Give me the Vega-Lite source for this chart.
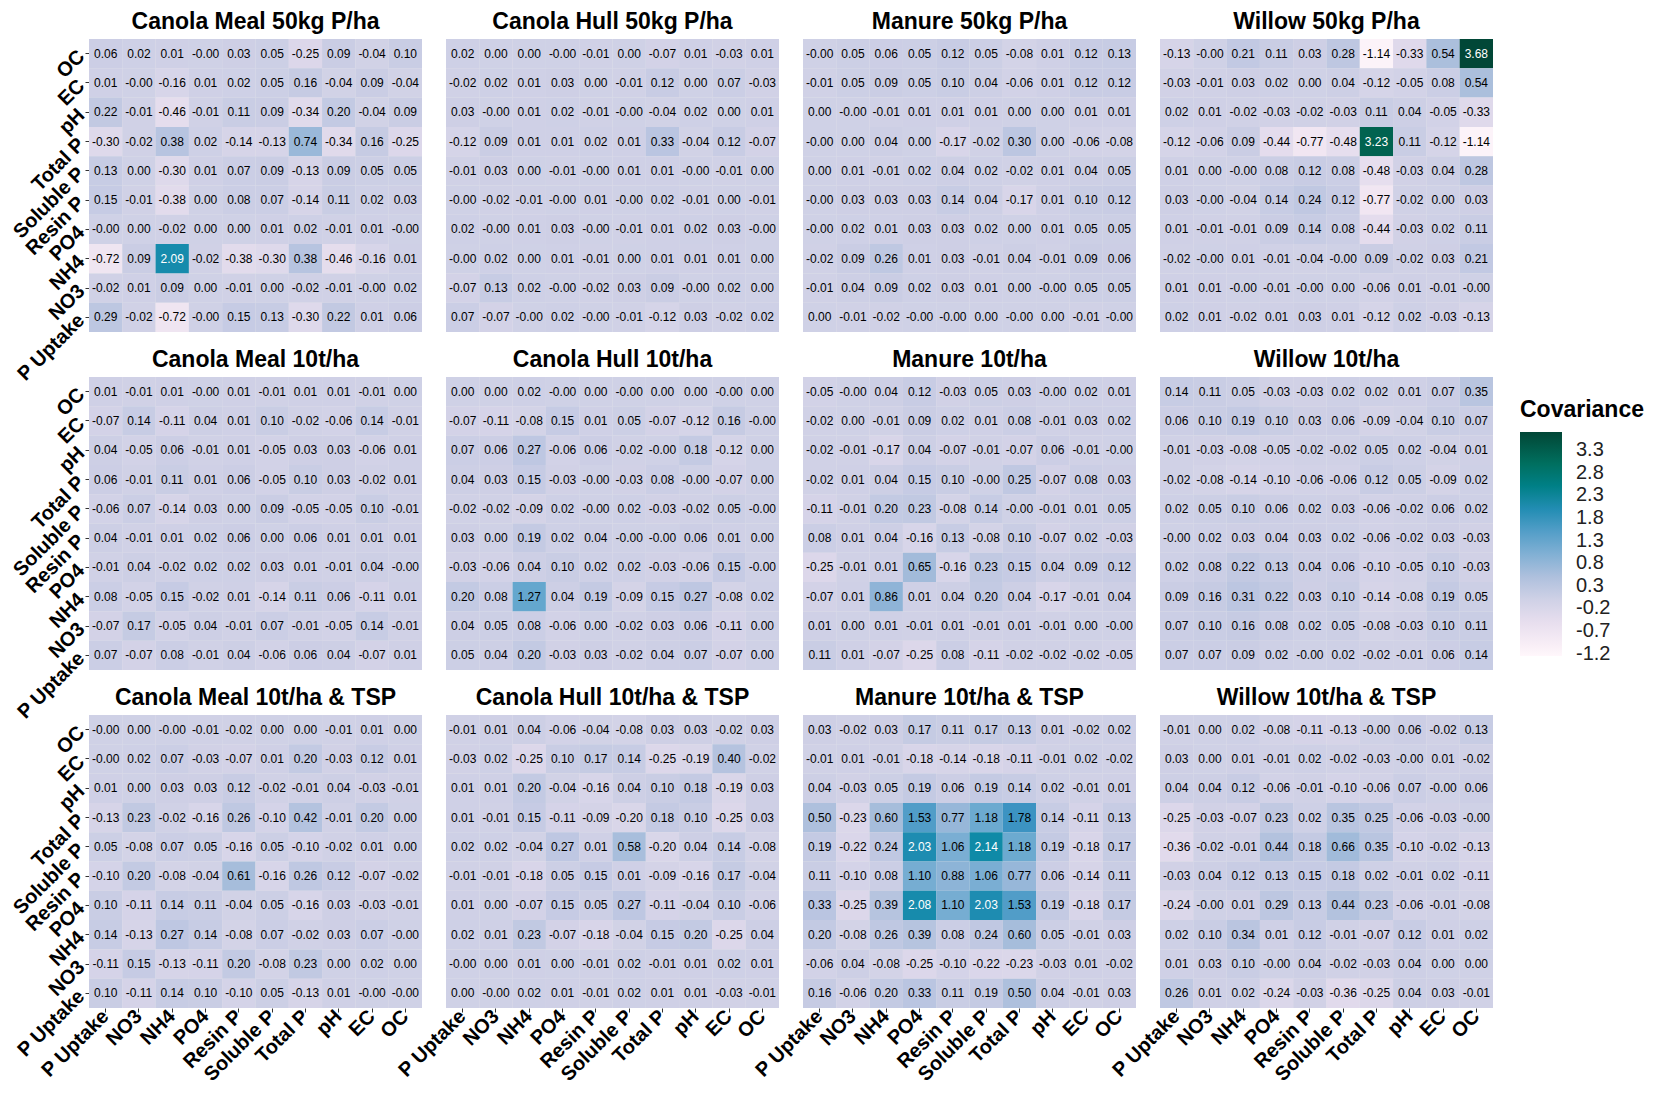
{
"$schema": "https://vega.github.io/schema/vega-lite/v6.json",
"padding": {"left": 5, "top": 11, "right": 5, "bottom": 2},
"datasets": {
"panels": [
{"p":1,"name":"Canola Meal 50kg P/ha"},{"p":2,"name":"Canola Hull 50kg P/ha"},{"p":3,"name":"Manure 50kg P/ha"},{"p":4,"name":"Willow 50kg P/ha"},
{"p":5,"name":"Canola Meal 10t/ha"},{"p":6,"name":"Canola Hull 10t/ha"},{"p":7,"name":"Manure 10t/ha"},{"p":8,"name":"Willow 10t/ha"},
{"p":9,"name":"Canola Meal 10t/ha & TSP"},{"p":10,"name":"Canola Hull 10t/ha & TSP"},{"p":11,"name":"Manure 10t/ha & TSP"},{"p":12,"name":"Willow 10t/ha & TSP"}
],
"cells": [
{"p":1,"y":"OC","x":"P Uptake","v":0.06},{"p":1,"y":"OC","x":"NO3","v":0.02},{"p":1,"y":"OC","x":"NH4","v":0.01},{"p":1,"y":"OC","x":"PO4","v":-0.001},{"p":1,"y":"OC","x":"Resin P","v":0.03},{"p":1,"y":"OC","x":"Soluble P","v":0.05},{"p":1,"y":"OC","x":"Total P","v":-0.25},{"p":1,"y":"OC","x":"pH","v":0.09},{"p":1,"y":"OC","x":"EC","v":-0.04},{"p":1,"y":"OC","x":"OC","v":0.10},
{"p":1,"y":"EC","x":"P Uptake","v":0.01},{"p":1,"y":"EC","x":"NO3","v":-0.001},{"p":1,"y":"EC","x":"NH4","v":-0.16},{"p":1,"y":"EC","x":"PO4","v":0.01},{"p":1,"y":"EC","x":"Resin P","v":0.02},{"p":1,"y":"EC","x":"Soluble P","v":0.05},{"p":1,"y":"EC","x":"Total P","v":0.16},{"p":1,"y":"EC","x":"pH","v":-0.04},{"p":1,"y":"EC","x":"EC","v":0.09},{"p":1,"y":"EC","x":"OC","v":-0.04},
{"p":1,"y":"pH","x":"P Uptake","v":0.22},{"p":1,"y":"pH","x":"NO3","v":-0.01},{"p":1,"y":"pH","x":"NH4","v":-0.46},{"p":1,"y":"pH","x":"PO4","v":-0.01},{"p":1,"y":"pH","x":"Resin P","v":0.11},{"p":1,"y":"pH","x":"Soluble P","v":0.09},{"p":1,"y":"pH","x":"Total P","v":-0.34},{"p":1,"y":"pH","x":"pH","v":0.20},{"p":1,"y":"pH","x":"EC","v":-0.04},{"p":1,"y":"pH","x":"OC","v":0.09},
{"p":1,"y":"Total P","x":"P Uptake","v":-0.30},{"p":1,"y":"Total P","x":"NO3","v":-0.02},{"p":1,"y":"Total P","x":"NH4","v":0.38},{"p":1,"y":"Total P","x":"PO4","v":0.02},{"p":1,"y":"Total P","x":"Resin P","v":-0.14},{"p":1,"y":"Total P","x":"Soluble P","v":-0.13},{"p":1,"y":"Total P","x":"Total P","v":0.74},{"p":1,"y":"Total P","x":"pH","v":-0.34},{"p":1,"y":"Total P","x":"EC","v":0.16},{"p":1,"y":"Total P","x":"OC","v":-0.25},
{"p":1,"y":"Soluble P","x":"P Uptake","v":0.13},{"p":1,"y":"Soluble P","x":"NO3","v":0.00},{"p":1,"y":"Soluble P","x":"NH4","v":-0.30},{"p":1,"y":"Soluble P","x":"PO4","v":0.01},{"p":1,"y":"Soluble P","x":"Resin P","v":0.07},{"p":1,"y":"Soluble P","x":"Soluble P","v":0.09},{"p":1,"y":"Soluble P","x":"Total P","v":-0.13},{"p":1,"y":"Soluble P","x":"pH","v":0.09},{"p":1,"y":"Soluble P","x":"EC","v":0.05},{"p":1,"y":"Soluble P","x":"OC","v":0.05},
{"p":1,"y":"Resin P","x":"P Uptake","v":0.15},{"p":1,"y":"Resin P","x":"NO3","v":-0.01},{"p":1,"y":"Resin P","x":"NH4","v":-0.38},{"p":1,"y":"Resin P","x":"PO4","v":0.00},{"p":1,"y":"Resin P","x":"Resin P","v":0.08},{"p":1,"y":"Resin P","x":"Soluble P","v":0.07},{"p":1,"y":"Resin P","x":"Total P","v":-0.14},{"p":1,"y":"Resin P","x":"pH","v":0.11},{"p":1,"y":"Resin P","x":"EC","v":0.02},{"p":1,"y":"Resin P","x":"OC","v":0.03},
{"p":1,"y":"PO4","x":"P Uptake","v":-0.001},{"p":1,"y":"PO4","x":"NO3","v":0.00},{"p":1,"y":"PO4","x":"NH4","v":-0.02},{"p":1,"y":"PO4","x":"PO4","v":0.00},{"p":1,"y":"PO4","x":"Resin P","v":0.00},{"p":1,"y":"PO4","x":"Soluble P","v":0.01},{"p":1,"y":"PO4","x":"Total P","v":0.02},{"p":1,"y":"PO4","x":"pH","v":-0.01},{"p":1,"y":"PO4","x":"EC","v":0.01},{"p":1,"y":"PO4","x":"OC","v":-0.001},
{"p":1,"y":"NH4","x":"P Uptake","v":-0.72},{"p":1,"y":"NH4","x":"NO3","v":0.09},{"p":1,"y":"NH4","x":"NH4","v":2.09},{"p":1,"y":"NH4","x":"PO4","v":-0.02},{"p":1,"y":"NH4","x":"Resin P","v":-0.38},{"p":1,"y":"NH4","x":"Soluble P","v":-0.30},{"p":1,"y":"NH4","x":"Total P","v":0.38},{"p":1,"y":"NH4","x":"pH","v":-0.46},{"p":1,"y":"NH4","x":"EC","v":-0.16},{"p":1,"y":"NH4","x":"OC","v":0.01},
{"p":1,"y":"NO3","x":"P Uptake","v":-0.02},{"p":1,"y":"NO3","x":"NO3","v":0.01},{"p":1,"y":"NO3","x":"NH4","v":0.09},{"p":1,"y":"NO3","x":"PO4","v":0.00},{"p":1,"y":"NO3","x":"Resin P","v":-0.01},{"p":1,"y":"NO3","x":"Soluble P","v":0.00},{"p":1,"y":"NO3","x":"Total P","v":-0.02},{"p":1,"y":"NO3","x":"pH","v":-0.01},{"p":1,"y":"NO3","x":"EC","v":-0.001},{"p":1,"y":"NO3","x":"OC","v":0.02},
{"p":1,"y":"P Uptake","x":"P Uptake","v":0.29},{"p":1,"y":"P Uptake","x":"NO3","v":-0.02},{"p":1,"y":"P Uptake","x":"NH4","v":-0.72},{"p":1,"y":"P Uptake","x":"PO4","v":-0.001},{"p":1,"y":"P Uptake","x":"Resin P","v":0.15},{"p":1,"y":"P Uptake","x":"Soluble P","v":0.13},{"p":1,"y":"P Uptake","x":"Total P","v":-0.30},{"p":1,"y":"P Uptake","x":"pH","v":0.22},{"p":1,"y":"P Uptake","x":"EC","v":0.01},{"p":1,"y":"P Uptake","x":"OC","v":0.06},

{"p":2,"y":"OC","x":"P Uptake","v":0.02},{"p":2,"y":"OC","x":"NO3","v":0.00},{"p":2,"y":"OC","x":"NH4","v":0.00},{"p":2,"y":"OC","x":"PO4","v":-0.001},{"p":2,"y":"OC","x":"Resin P","v":-0.01},{"p":2,"y":"OC","x":"Soluble P","v":0.00},{"p":2,"y":"OC","x":"Total P","v":-0.07},{"p":2,"y":"OC","x":"pH","v":0.01},{"p":2,"y":"OC","x":"EC","v":-0.03},{"p":2,"y":"OC","x":"OC","v":0.01},
{"p":2,"y":"EC","x":"P Uptake","v":-0.02},{"p":2,"y":"EC","x":"NO3","v":0.02},{"p":2,"y":"EC","x":"NH4","v":0.01},{"p":2,"y":"EC","x":"PO4","v":0.03},{"p":2,"y":"EC","x":"Resin P","v":0.00},{"p":2,"y":"EC","x":"Soluble P","v":-0.01},{"p":2,"y":"EC","x":"Total P","v":0.12},{"p":2,"y":"EC","x":"pH","v":0.00},{"p":2,"y":"EC","x":"EC","v":0.07},{"p":2,"y":"EC","x":"OC","v":-0.03},
{"p":2,"y":"pH","x":"P Uptake","v":0.03},{"p":2,"y":"pH","x":"NO3","v":-0.001},{"p":2,"y":"pH","x":"NH4","v":0.01},{"p":2,"y":"pH","x":"PO4","v":0.02},{"p":2,"y":"pH","x":"Resin P","v":-0.01},{"p":2,"y":"pH","x":"Soluble P","v":-0.001},{"p":2,"y":"pH","x":"Total P","v":-0.04},{"p":2,"y":"pH","x":"pH","v":0.02},{"p":2,"y":"pH","x":"EC","v":0.00},{"p":2,"y":"pH","x":"OC","v":0.01},
{"p":2,"y":"Total P","x":"P Uptake","v":-0.12},{"p":2,"y":"Total P","x":"NO3","v":0.09},{"p":2,"y":"Total P","x":"NH4","v":0.01},{"p":2,"y":"Total P","x":"PO4","v":0.01},{"p":2,"y":"Total P","x":"Resin P","v":0.02},{"p":2,"y":"Total P","x":"Soluble P","v":0.01},{"p":2,"y":"Total P","x":"Total P","v":0.33},{"p":2,"y":"Total P","x":"pH","v":-0.04},{"p":2,"y":"Total P","x":"EC","v":0.12},{"p":2,"y":"Total P","x":"OC","v":-0.07},
{"p":2,"y":"Soluble P","x":"P Uptake","v":-0.01},{"p":2,"y":"Soluble P","x":"NO3","v":0.03},{"p":2,"y":"Soluble P","x":"NH4","v":0.00},{"p":2,"y":"Soluble P","x":"PO4","v":-0.01},{"p":2,"y":"Soluble P","x":"Resin P","v":-0.001},{"p":2,"y":"Soluble P","x":"Soluble P","v":0.01},{"p":2,"y":"Soluble P","x":"Total P","v":0.01},{"p":2,"y":"Soluble P","x":"pH","v":-0.001},{"p":2,"y":"Soluble P","x":"EC","v":-0.01},{"p":2,"y":"Soluble P","x":"OC","v":0.00},
{"p":2,"y":"Resin P","x":"P Uptake","v":-0.001},{"p":2,"y":"Resin P","x":"NO3","v":-0.02},{"p":2,"y":"Resin P","x":"NH4","v":-0.01},{"p":2,"y":"Resin P","x":"PO4","v":-0.001},{"p":2,"y":"Resin P","x":"Resin P","v":0.01},{"p":2,"y":"Resin P","x":"Soluble P","v":-0.001},{"p":2,"y":"Resin P","x":"Total P","v":0.02},{"p":2,"y":"Resin P","x":"pH","v":-0.01},{"p":2,"y":"Resin P","x":"EC","v":0.00},{"p":2,"y":"Resin P","x":"OC","v":-0.01},
{"p":2,"y":"PO4","x":"P Uptake","v":0.02},{"p":2,"y":"PO4","x":"NO3","v":-0.001},{"p":2,"y":"PO4","x":"NH4","v":0.01},{"p":2,"y":"PO4","x":"PO4","v":0.03},{"p":2,"y":"PO4","x":"Resin P","v":-0.001},{"p":2,"y":"PO4","x":"Soluble P","v":-0.01},{"p":2,"y":"PO4","x":"Total P","v":0.01},{"p":2,"y":"PO4","x":"pH","v":0.02},{"p":2,"y":"PO4","x":"EC","v":0.03},{"p":2,"y":"PO4","x":"OC","v":-0.001},
{"p":2,"y":"NH4","x":"P Uptake","v":-0.001},{"p":2,"y":"NH4","x":"NO3","v":0.02},{"p":2,"y":"NH4","x":"NH4","v":0.00},{"p":2,"y":"NH4","x":"PO4","v":0.01},{"p":2,"y":"NH4","x":"Resin P","v":-0.01},{"p":2,"y":"NH4","x":"Soluble P","v":0.00},{"p":2,"y":"NH4","x":"Total P","v":0.01},{"p":2,"y":"NH4","x":"pH","v":0.01},{"p":2,"y":"NH4","x":"EC","v":0.01},{"p":2,"y":"NH4","x":"OC","v":0.00},
{"p":2,"y":"NO3","x":"P Uptake","v":-0.07},{"p":2,"y":"NO3","x":"NO3","v":0.13},{"p":2,"y":"NO3","x":"NH4","v":0.02},{"p":2,"y":"NO3","x":"PO4","v":-0.001},{"p":2,"y":"NO3","x":"Resin P","v":-0.02},{"p":2,"y":"NO3","x":"Soluble P","v":0.03},{"p":2,"y":"NO3","x":"Total P","v":0.09},{"p":2,"y":"NO3","x":"pH","v":-0.001},{"p":2,"y":"NO3","x":"EC","v":0.02},{"p":2,"y":"NO3","x":"OC","v":0.00},
{"p":2,"y":"P Uptake","x":"P Uptake","v":0.07},{"p":2,"y":"P Uptake","x":"NO3","v":-0.07},{"p":2,"y":"P Uptake","x":"NH4","v":-0.001},{"p":2,"y":"P Uptake","x":"PO4","v":0.02},{"p":2,"y":"P Uptake","x":"Resin P","v":-0.001},{"p":2,"y":"P Uptake","x":"Soluble P","v":-0.01},{"p":2,"y":"P Uptake","x":"Total P","v":-0.12},{"p":2,"y":"P Uptake","x":"pH","v":0.03},{"p":2,"y":"P Uptake","x":"EC","v":-0.02},{"p":2,"y":"P Uptake","x":"OC","v":0.02},

{"p":3,"y":"OC","x":"P Uptake","v":-0.001},{"p":3,"y":"OC","x":"NO3","v":0.05},{"p":3,"y":"OC","x":"NH4","v":0.06},{"p":3,"y":"OC","x":"PO4","v":0.05},{"p":3,"y":"OC","x":"Resin P","v":0.12},{"p":3,"y":"OC","x":"Soluble P","v":0.05},{"p":3,"y":"OC","x":"Total P","v":-0.08},{"p":3,"y":"OC","x":"pH","v":0.01},{"p":3,"y":"OC","x":"EC","v":0.12},{"p":3,"y":"OC","x":"OC","v":0.13},
{"p":3,"y":"EC","x":"P Uptake","v":-0.01},{"p":3,"y":"EC","x":"NO3","v":0.05},{"p":3,"y":"EC","x":"NH4","v":0.09},{"p":3,"y":"EC","x":"PO4","v":0.05},{"p":3,"y":"EC","x":"Resin P","v":0.10},{"p":3,"y":"EC","x":"Soluble P","v":0.04},{"p":3,"y":"EC","x":"Total P","v":-0.06},{"p":3,"y":"EC","x":"pH","v":0.01},{"p":3,"y":"EC","x":"EC","v":0.12},{"p":3,"y":"EC","x":"OC","v":0.12},
{"p":3,"y":"pH","x":"P Uptake","v":0.00},{"p":3,"y":"pH","x":"NO3","v":-0.001},{"p":3,"y":"pH","x":"NH4","v":-0.01},{"p":3,"y":"pH","x":"PO4","v":0.01},{"p":3,"y":"pH","x":"Resin P","v":0.01},{"p":3,"y":"pH","x":"Soluble P","v":0.01},{"p":3,"y":"pH","x":"Total P","v":0.00},{"p":3,"y":"pH","x":"pH","v":0.00},{"p":3,"y":"pH","x":"EC","v":0.01},{"p":3,"y":"pH","x":"OC","v":0.01},
{"p":3,"y":"Total P","x":"P Uptake","v":-0.001},{"p":3,"y":"Total P","x":"NO3","v":0.00},{"p":3,"y":"Total P","x":"NH4","v":0.04},{"p":3,"y":"Total P","x":"PO4","v":0.00},{"p":3,"y":"Total P","x":"Resin P","v":-0.17},{"p":3,"y":"Total P","x":"Soluble P","v":-0.02},{"p":3,"y":"Total P","x":"Total P","v":0.30},{"p":3,"y":"Total P","x":"pH","v":0.00},{"p":3,"y":"Total P","x":"EC","v":-0.06},{"p":3,"y":"Total P","x":"OC","v":-0.08},
{"p":3,"y":"Soluble P","x":"P Uptake","v":0.00},{"p":3,"y":"Soluble P","x":"NO3","v":0.01},{"p":3,"y":"Soluble P","x":"NH4","v":-0.01},{"p":3,"y":"Soluble P","x":"PO4","v":0.02},{"p":3,"y":"Soluble P","x":"Resin P","v":0.04},{"p":3,"y":"Soluble P","x":"Soluble P","v":0.02},{"p":3,"y":"Soluble P","x":"Total P","v":-0.02},{"p":3,"y":"Soluble P","x":"pH","v":0.01},{"p":3,"y":"Soluble P","x":"EC","v":0.04},{"p":3,"y":"Soluble P","x":"OC","v":0.05},
{"p":3,"y":"Resin P","x":"P Uptake","v":-0.001},{"p":3,"y":"Resin P","x":"NO3","v":0.03},{"p":3,"y":"Resin P","x":"NH4","v":0.03},{"p":3,"y":"Resin P","x":"PO4","v":0.03},{"p":3,"y":"Resin P","x":"Resin P","v":0.14},{"p":3,"y":"Resin P","x":"Soluble P","v":0.04},{"p":3,"y":"Resin P","x":"Total P","v":-0.17},{"p":3,"y":"Resin P","x":"pH","v":0.01},{"p":3,"y":"Resin P","x":"EC","v":0.10},{"p":3,"y":"Resin P","x":"OC","v":0.12},
{"p":3,"y":"PO4","x":"P Uptake","v":-0.001},{"p":3,"y":"PO4","x":"NO3","v":0.02},{"p":3,"y":"PO4","x":"NH4","v":0.01},{"p":3,"y":"PO4","x":"PO4","v":0.03},{"p":3,"y":"PO4","x":"Resin P","v":0.03},{"p":3,"y":"PO4","x":"Soluble P","v":0.02},{"p":3,"y":"PO4","x":"Total P","v":0.00},{"p":3,"y":"PO4","x":"pH","v":0.01},{"p":3,"y":"PO4","x":"EC","v":0.05},{"p":3,"y":"PO4","x":"OC","v":0.05},
{"p":3,"y":"NH4","x":"P Uptake","v":-0.02},{"p":3,"y":"NH4","x":"NO3","v":0.09},{"p":3,"y":"NH4","x":"NH4","v":0.26},{"p":3,"y":"NH4","x":"PO4","v":0.01},{"p":3,"y":"NH4","x":"Resin P","v":0.03},{"p":3,"y":"NH4","x":"Soluble P","v":-0.01},{"p":3,"y":"NH4","x":"Total P","v":0.04},{"p":3,"y":"NH4","x":"pH","v":-0.01},{"p":3,"y":"NH4","x":"EC","v":0.09},{"p":3,"y":"NH4","x":"OC","v":0.06},
{"p":3,"y":"NO3","x":"P Uptake","v":-0.01},{"p":3,"y":"NO3","x":"NO3","v":0.04},{"p":3,"y":"NO3","x":"NH4","v":0.09},{"p":3,"y":"NO3","x":"PO4","v":0.02},{"p":3,"y":"NO3","x":"Resin P","v":0.03},{"p":3,"y":"NO3","x":"Soluble P","v":0.01},{"p":3,"y":"NO3","x":"Total P","v":0.00},{"p":3,"y":"NO3","x":"pH","v":-0.001},{"p":3,"y":"NO3","x":"EC","v":0.05},{"p":3,"y":"NO3","x":"OC","v":0.05},
{"p":3,"y":"P Uptake","x":"P Uptake","v":0.00},{"p":3,"y":"P Uptake","x":"NO3","v":-0.01},{"p":3,"y":"P Uptake","x":"NH4","v":-0.02},{"p":3,"y":"P Uptake","x":"PO4","v":-0.001},{"p":3,"y":"P Uptake","x":"Resin P","v":-0.001},{"p":3,"y":"P Uptake","x":"Soluble P","v":0.00},{"p":3,"y":"P Uptake","x":"Total P","v":-0.001},{"p":3,"y":"P Uptake","x":"pH","v":0.00},{"p":3,"y":"P Uptake","x":"EC","v":-0.01},{"p":3,"y":"P Uptake","x":"OC","v":-0.001},

{"p":4,"y":"OC","x":"P Uptake","v":-0.13},{"p":4,"y":"OC","x":"NO3","v":-0.001},{"p":4,"y":"OC","x":"NH4","v":0.21},{"p":4,"y":"OC","x":"PO4","v":0.11},{"p":4,"y":"OC","x":"Resin P","v":0.03},{"p":4,"y":"OC","x":"Soluble P","v":0.28},{"p":4,"y":"OC","x":"Total P","v":-1.14},{"p":4,"y":"OC","x":"pH","v":-0.33},{"p":4,"y":"OC","x":"EC","v":0.54},{"p":4,"y":"OC","x":"OC","v":3.68},
{"p":4,"y":"EC","x":"P Uptake","v":-0.03},{"p":4,"y":"EC","x":"NO3","v":-0.01},{"p":4,"y":"EC","x":"NH4","v":0.03},{"p":4,"y":"EC","x":"PO4","v":0.02},{"p":4,"y":"EC","x":"Resin P","v":0.00},{"p":4,"y":"EC","x":"Soluble P","v":0.04},{"p":4,"y":"EC","x":"Total P","v":-0.12},{"p":4,"y":"EC","x":"pH","v":-0.05},{"p":4,"y":"EC","x":"EC","v":0.08},{"p":4,"y":"EC","x":"OC","v":0.54},
{"p":4,"y":"pH","x":"P Uptake","v":0.02},{"p":4,"y":"pH","x":"NO3","v":0.01},{"p":4,"y":"pH","x":"NH4","v":-0.02},{"p":4,"y":"pH","x":"PO4","v":-0.03},{"p":4,"y":"pH","x":"Resin P","v":-0.02},{"p":4,"y":"pH","x":"Soluble P","v":-0.03},{"p":4,"y":"pH","x":"Total P","v":0.11},{"p":4,"y":"pH","x":"pH","v":0.04},{"p":4,"y":"pH","x":"EC","v":-0.05},{"p":4,"y":"pH","x":"OC","v":-0.33},
{"p":4,"y":"Total P","x":"P Uptake","v":-0.12},{"p":4,"y":"Total P","x":"NO3","v":-0.06},{"p":4,"y":"Total P","x":"NH4","v":0.09},{"p":4,"y":"Total P","x":"PO4","v":-0.44},{"p":4,"y":"Total P","x":"Resin P","v":-0.77},{"p":4,"y":"Total P","x":"Soluble P","v":-0.48},{"p":4,"y":"Total P","x":"Total P","v":3.23},{"p":4,"y":"Total P","x":"pH","v":0.11},{"p":4,"y":"Total P","x":"EC","v":-0.12},{"p":4,"y":"Total P","x":"OC","v":-1.14},
{"p":4,"y":"Soluble P","x":"P Uptake","v":0.01},{"p":4,"y":"Soluble P","x":"NO3","v":0.00},{"p":4,"y":"Soluble P","x":"NH4","v":-0.001},{"p":4,"y":"Soluble P","x":"PO4","v":0.08},{"p":4,"y":"Soluble P","x":"Resin P","v":0.12},{"p":4,"y":"Soluble P","x":"Soluble P","v":0.08},{"p":4,"y":"Soluble P","x":"Total P","v":-0.48},{"p":4,"y":"Soluble P","x":"pH","v":-0.03},{"p":4,"y":"Soluble P","x":"EC","v":0.04},{"p":4,"y":"Soluble P","x":"OC","v":0.28},
{"p":4,"y":"Resin P","x":"P Uptake","v":0.03},{"p":4,"y":"Resin P","x":"NO3","v":-0.001},{"p":4,"y":"Resin P","x":"NH4","v":-0.04},{"p":4,"y":"Resin P","x":"PO4","v":0.14},{"p":4,"y":"Resin P","x":"Resin P","v":0.24},{"p":4,"y":"Resin P","x":"Soluble P","v":0.12},{"p":4,"y":"Resin P","x":"Total P","v":-0.77},{"p":4,"y":"Resin P","x":"pH","v":-0.02},{"p":4,"y":"Resin P","x":"EC","v":0.00},{"p":4,"y":"Resin P","x":"OC","v":0.03},
{"p":4,"y":"PO4","x":"P Uptake","v":0.01},{"p":4,"y":"PO4","x":"NO3","v":-0.01},{"p":4,"y":"PO4","x":"NH4","v":-0.01},{"p":4,"y":"PO4","x":"PO4","v":0.09},{"p":4,"y":"PO4","x":"Resin P","v":0.14},{"p":4,"y":"PO4","x":"Soluble P","v":0.08},{"p":4,"y":"PO4","x":"Total P","v":-0.44},{"p":4,"y":"PO4","x":"pH","v":-0.03},{"p":4,"y":"PO4","x":"EC","v":0.02},{"p":4,"y":"PO4","x":"OC","v":0.11},
{"p":4,"y":"NH4","x":"P Uptake","v":-0.02},{"p":4,"y":"NH4","x":"NO3","v":-0.001},{"p":4,"y":"NH4","x":"NH4","v":0.01},{"p":4,"y":"NH4","x":"PO4","v":-0.01},{"p":4,"y":"NH4","x":"Resin P","v":-0.04},{"p":4,"y":"NH4","x":"Soluble P","v":-0.001},{"p":4,"y":"NH4","x":"Total P","v":0.09},{"p":4,"y":"NH4","x":"pH","v":-0.02},{"p":4,"y":"NH4","x":"EC","v":0.03},{"p":4,"y":"NH4","x":"OC","v":0.21},
{"p":4,"y":"NO3","x":"P Uptake","v":0.01},{"p":4,"y":"NO3","x":"NO3","v":0.01},{"p":4,"y":"NO3","x":"NH4","v":-0.001},{"p":4,"y":"NO3","x":"PO4","v":-0.01},{"p":4,"y":"NO3","x":"Resin P","v":-0.001},{"p":4,"y":"NO3","x":"Soluble P","v":0.00},{"p":4,"y":"NO3","x":"Total P","v":-0.06},{"p":4,"y":"NO3","x":"pH","v":0.01},{"p":4,"y":"NO3","x":"EC","v":-0.01},{"p":4,"y":"NO3","x":"OC","v":-0.001},
{"p":4,"y":"P Uptake","x":"P Uptake","v":0.02},{"p":4,"y":"P Uptake","x":"NO3","v":0.01},{"p":4,"y":"P Uptake","x":"NH4","v":-0.02},{"p":4,"y":"P Uptake","x":"PO4","v":0.01},{"p":4,"y":"P Uptake","x":"Resin P","v":0.03},{"p":4,"y":"P Uptake","x":"Soluble P","v":0.01},{"p":4,"y":"P Uptake","x":"Total P","v":-0.12},{"p":4,"y":"P Uptake","x":"pH","v":0.02},{"p":4,"y":"P Uptake","x":"EC","v":-0.03},{"p":4,"y":"P Uptake","x":"OC","v":-0.13},

{"p":5,"y":"OC","x":"P Uptake","v":0.01},{"p":5,"y":"OC","x":"NO3","v":-0.01},{"p":5,"y":"OC","x":"NH4","v":0.01},{"p":5,"y":"OC","x":"PO4","v":-0.001},{"p":5,"y":"OC","x":"Resin P","v":0.01},{"p":5,"y":"OC","x":"Soluble P","v":-0.01},{"p":5,"y":"OC","x":"Total P","v":0.01},{"p":5,"y":"OC","x":"pH","v":0.01},{"p":5,"y":"OC","x":"EC","v":-0.01},{"p":5,"y":"OC","x":"OC","v":0.00},
{"p":5,"y":"EC","x":"P Uptake","v":-0.07},{"p":5,"y":"EC","x":"NO3","v":0.14},{"p":5,"y":"EC","x":"NH4","v":-0.11},{"p":5,"y":"EC","x":"PO4","v":0.04},{"p":5,"y":"EC","x":"Resin P","v":0.01},{"p":5,"y":"EC","x":"Soluble P","v":0.10},{"p":5,"y":"EC","x":"Total P","v":-0.02},{"p":5,"y":"EC","x":"pH","v":-0.06},{"p":5,"y":"EC","x":"EC","v":0.14},{"p":5,"y":"EC","x":"OC","v":-0.01},
{"p":5,"y":"pH","x":"P Uptake","v":0.04},{"p":5,"y":"pH","x":"NO3","v":-0.05},{"p":5,"y":"pH","x":"NH4","v":0.06},{"p":5,"y":"pH","x":"PO4","v":-0.01},{"p":5,"y":"pH","x":"Resin P","v":0.01},{"p":5,"y":"pH","x":"Soluble P","v":-0.05},{"p":5,"y":"pH","x":"Total P","v":0.03},{"p":5,"y":"pH","x":"pH","v":0.03},{"p":5,"y":"pH","x":"EC","v":-0.06},{"p":5,"y":"pH","x":"OC","v":0.01},
{"p":5,"y":"Total P","x":"P Uptake","v":0.06},{"p":5,"y":"Total P","x":"NO3","v":-0.01},{"p":5,"y":"Total P","x":"NH4","v":0.11},{"p":5,"y":"Total P","x":"PO4","v":0.01},{"p":5,"y":"Total P","x":"Resin P","v":0.06},{"p":5,"y":"Total P","x":"Soluble P","v":-0.05},{"p":5,"y":"Total P","x":"Total P","v":0.10},{"p":5,"y":"Total P","x":"pH","v":0.03},{"p":5,"y":"Total P","x":"EC","v":-0.02},{"p":5,"y":"Total P","x":"OC","v":0.01},
{"p":5,"y":"Soluble P","x":"P Uptake","v":-0.06},{"p":5,"y":"Soluble P","x":"NO3","v":0.07},{"p":5,"y":"Soluble P","x":"NH4","v":-0.14},{"p":5,"y":"Soluble P","x":"PO4","v":0.03},{"p":5,"y":"Soluble P","x":"Resin P","v":0.00},{"p":5,"y":"Soluble P","x":"Soluble P","v":0.09},{"p":5,"y":"Soluble P","x":"Total P","v":-0.05},{"p":5,"y":"Soluble P","x":"pH","v":-0.05},{"p":5,"y":"Soluble P","x":"EC","v":0.10},{"p":5,"y":"Soluble P","x":"OC","v":-0.01},
{"p":5,"y":"Resin P","x":"P Uptake","v":0.04},{"p":5,"y":"Resin P","x":"NO3","v":-0.01},{"p":5,"y":"Resin P","x":"NH4","v":0.01},{"p":5,"y":"Resin P","x":"PO4","v":0.02},{"p":5,"y":"Resin P","x":"Resin P","v":0.06},{"p":5,"y":"Resin P","x":"Soluble P","v":0.00},{"p":5,"y":"Resin P","x":"Total P","v":0.06},{"p":5,"y":"Resin P","x":"pH","v":0.01},{"p":5,"y":"Resin P","x":"EC","v":0.01},{"p":5,"y":"Resin P","x":"OC","v":0.01},
{"p":5,"y":"PO4","x":"P Uptake","v":-0.01},{"p":5,"y":"PO4","x":"NO3","v":0.04},{"p":5,"y":"PO4","x":"NH4","v":-0.02},{"p":5,"y":"PO4","x":"PO4","v":0.02},{"p":5,"y":"PO4","x":"Resin P","v":0.02},{"p":5,"y":"PO4","x":"Soluble P","v":0.03},{"p":5,"y":"PO4","x":"Total P","v":0.01},{"p":5,"y":"PO4","x":"pH","v":-0.01},{"p":5,"y":"PO4","x":"EC","v":0.04},{"p":5,"y":"PO4","x":"OC","v":-0.001},
{"p":5,"y":"NH4","x":"P Uptake","v":0.08},{"p":5,"y":"NH4","x":"NO3","v":-0.05},{"p":5,"y":"NH4","x":"NH4","v":0.15},{"p":5,"y":"NH4","x":"PO4","v":-0.02},{"p":5,"y":"NH4","x":"Resin P","v":0.01},{"p":5,"y":"NH4","x":"Soluble P","v":-0.14},{"p":5,"y":"NH4","x":"Total P","v":0.11},{"p":5,"y":"NH4","x":"pH","v":0.06},{"p":5,"y":"NH4","x":"EC","v":-0.11},{"p":5,"y":"NH4","x":"OC","v":0.01},
{"p":5,"y":"NO3","x":"P Uptake","v":-0.07},{"p":5,"y":"NO3","x":"NO3","v":0.17},{"p":5,"y":"NO3","x":"NH4","v":-0.05},{"p":5,"y":"NO3","x":"PO4","v":0.04},{"p":5,"y":"NO3","x":"Resin P","v":-0.01},{"p":5,"y":"NO3","x":"Soluble P","v":0.07},{"p":5,"y":"NO3","x":"Total P","v":-0.01},{"p":5,"y":"NO3","x":"pH","v":-0.05},{"p":5,"y":"NO3","x":"EC","v":0.14},{"p":5,"y":"NO3","x":"OC","v":-0.01},
{"p":5,"y":"P Uptake","x":"P Uptake","v":0.07},{"p":5,"y":"P Uptake","x":"NO3","v":-0.07},{"p":5,"y":"P Uptake","x":"NH4","v":0.08},{"p":5,"y":"P Uptake","x":"PO4","v":-0.01},{"p":5,"y":"P Uptake","x":"Resin P","v":0.04},{"p":5,"y":"P Uptake","x":"Soluble P","v":-0.06},{"p":5,"y":"P Uptake","x":"Total P","v":0.06},{"p":5,"y":"P Uptake","x":"pH","v":0.04},{"p":5,"y":"P Uptake","x":"EC","v":-0.07},{"p":5,"y":"P Uptake","x":"OC","v":0.01},

{"p":6,"y":"OC","x":"P Uptake","v":0.00},{"p":6,"y":"OC","x":"NO3","v":0.00},{"p":6,"y":"OC","x":"NH4","v":0.02},{"p":6,"y":"OC","x":"PO4","v":-0.001},{"p":6,"y":"OC","x":"Resin P","v":0.00},{"p":6,"y":"OC","x":"Soluble P","v":-0.001},{"p":6,"y":"OC","x":"Total P","v":0.00},{"p":6,"y":"OC","x":"pH","v":0.00},{"p":6,"y":"OC","x":"EC","v":-0.001},{"p":6,"y":"OC","x":"OC","v":0.00},
{"p":6,"y":"EC","x":"P Uptake","v":-0.07},{"p":6,"y":"EC","x":"NO3","v":-0.11},{"p":6,"y":"EC","x":"NH4","v":-0.08},{"p":6,"y":"EC","x":"PO4","v":0.15},{"p":6,"y":"EC","x":"Resin P","v":0.01},{"p":6,"y":"EC","x":"Soluble P","v":0.05},{"p":6,"y":"EC","x":"Total P","v":-0.07},{"p":6,"y":"EC","x":"pH","v":-0.12},{"p":6,"y":"EC","x":"EC","v":0.16},{"p":6,"y":"EC","x":"OC","v":-0.001},
{"p":6,"y":"pH","x":"P Uptake","v":0.07},{"p":6,"y":"pH","x":"NO3","v":0.06},{"p":6,"y":"pH","x":"NH4","v":0.27},{"p":6,"y":"pH","x":"PO4","v":-0.06},{"p":6,"y":"pH","x":"Resin P","v":0.06},{"p":6,"y":"pH","x":"Soluble P","v":-0.02},{"p":6,"y":"pH","x":"Total P","v":-0.001},{"p":6,"y":"pH","x":"pH","v":0.18},{"p":6,"y":"pH","x":"EC","v":-0.12},{"p":6,"y":"pH","x":"OC","v":0.00},
{"p":6,"y":"Total P","x":"P Uptake","v":0.04},{"p":6,"y":"Total P","x":"NO3","v":0.03},{"p":6,"y":"Total P","x":"NH4","v":0.15},{"p":6,"y":"Total P","x":"PO4","v":-0.03},{"p":6,"y":"Total P","x":"Resin P","v":-0.001},{"p":6,"y":"Total P","x":"Soluble P","v":-0.03},{"p":6,"y":"Total P","x":"Total P","v":0.08},{"p":6,"y":"Total P","x":"pH","v":-0.001},{"p":6,"y":"Total P","x":"EC","v":-0.07},{"p":6,"y":"Total P","x":"OC","v":0.00},
{"p":6,"y":"Soluble P","x":"P Uptake","v":-0.02},{"p":6,"y":"Soluble P","x":"NO3","v":-0.02},{"p":6,"y":"Soluble P","x":"NH4","v":-0.09},{"p":6,"y":"Soluble P","x":"PO4","v":0.02},{"p":6,"y":"Soluble P","x":"Resin P","v":-0.001},{"p":6,"y":"Soluble P","x":"Soluble P","v":0.02},{"p":6,"y":"Soluble P","x":"Total P","v":-0.03},{"p":6,"y":"Soluble P","x":"pH","v":-0.02},{"p":6,"y":"Soluble P","x":"EC","v":0.05},{"p":6,"y":"Soluble P","x":"OC","v":-0.001},
{"p":6,"y":"Resin P","x":"P Uptake","v":0.03},{"p":6,"y":"Resin P","x":"NO3","v":0.00},{"p":6,"y":"Resin P","x":"NH4","v":0.19},{"p":6,"y":"Resin P","x":"PO4","v":0.02},{"p":6,"y":"Resin P","x":"Resin P","v":0.04},{"p":6,"y":"Resin P","x":"Soluble P","v":-0.001},{"p":6,"y":"Resin P","x":"Total P","v":-0.001},{"p":6,"y":"Resin P","x":"pH","v":0.06},{"p":6,"y":"Resin P","x":"EC","v":0.01},{"p":6,"y":"Resin P","x":"OC","v":0.00},
{"p":6,"y":"PO4","x":"P Uptake","v":-0.03},{"p":6,"y":"PO4","x":"NO3","v":-0.06},{"p":6,"y":"PO4","x":"NH4","v":0.04},{"p":6,"y":"PO4","x":"PO4","v":0.10},{"p":6,"y":"PO4","x":"Resin P","v":0.02},{"p":6,"y":"PO4","x":"Soluble P","v":0.02},{"p":6,"y":"PO4","x":"Total P","v":-0.03},{"p":6,"y":"PO4","x":"pH","v":-0.06},{"p":6,"y":"PO4","x":"EC","v":0.15},{"p":6,"y":"PO4","x":"OC","v":-0.001},
{"p":6,"y":"NH4","x":"P Uptake","v":0.20},{"p":6,"y":"NH4","x":"NO3","v":0.08},{"p":6,"y":"NH4","x":"NH4","v":1.27},{"p":6,"y":"NH4","x":"PO4","v":0.04},{"p":6,"y":"NH4","x":"Resin P","v":0.19},{"p":6,"y":"NH4","x":"Soluble P","v":-0.09},{"p":6,"y":"NH4","x":"Total P","v":0.15},{"p":6,"y":"NH4","x":"pH","v":0.27},{"p":6,"y":"NH4","x":"EC","v":-0.08},{"p":6,"y":"NH4","x":"OC","v":0.02},
{"p":6,"y":"NO3","x":"P Uptake","v":0.04},{"p":6,"y":"NO3","x":"NO3","v":0.05},{"p":6,"y":"NO3","x":"NH4","v":0.08},{"p":6,"y":"NO3","x":"PO4","v":-0.06},{"p":6,"y":"NO3","x":"Resin P","v":0.00},{"p":6,"y":"NO3","x":"Soluble P","v":-0.02},{"p":6,"y":"NO3","x":"Total P","v":0.03},{"p":6,"y":"NO3","x":"pH","v":0.06},{"p":6,"y":"NO3","x":"EC","v":-0.11},{"p":6,"y":"NO3","x":"OC","v":0.00},
{"p":6,"y":"P Uptake","x":"P Uptake","v":0.05},{"p":6,"y":"P Uptake","x":"NO3","v":0.04},{"p":6,"y":"P Uptake","x":"NH4","v":0.20},{"p":6,"y":"P Uptake","x":"PO4","v":-0.03},{"p":6,"y":"P Uptake","x":"Resin P","v":0.03},{"p":6,"y":"P Uptake","x":"Soluble P","v":-0.02},{"p":6,"y":"P Uptake","x":"Total P","v":0.04},{"p":6,"y":"P Uptake","x":"pH","v":0.07},{"p":6,"y":"P Uptake","x":"EC","v":-0.07},{"p":6,"y":"P Uptake","x":"OC","v":0.00},

{"p":7,"y":"OC","x":"P Uptake","v":-0.05},{"p":7,"y":"OC","x":"NO3","v":-0.001},{"p":7,"y":"OC","x":"NH4","v":0.04},{"p":7,"y":"OC","x":"PO4","v":0.12},{"p":7,"y":"OC","x":"Resin P","v":-0.03},{"p":7,"y":"OC","x":"Soluble P","v":0.05},{"p":7,"y":"OC","x":"Total P","v":0.03},{"p":7,"y":"OC","x":"pH","v":-0.001},{"p":7,"y":"OC","x":"EC","v":0.02},{"p":7,"y":"OC","x":"OC","v":0.01},
{"p":7,"y":"EC","x":"P Uptake","v":-0.02},{"p":7,"y":"EC","x":"NO3","v":0.00},{"p":7,"y":"EC","x":"NH4","v":-0.01},{"p":7,"y":"EC","x":"PO4","v":0.09},{"p":7,"y":"EC","x":"Resin P","v":0.02},{"p":7,"y":"EC","x":"Soluble P","v":0.01},{"p":7,"y":"EC","x":"Total P","v":0.08},{"p":7,"y":"EC","x":"pH","v":-0.01},{"p":7,"y":"EC","x":"EC","v":0.03},{"p":7,"y":"EC","x":"OC","v":0.02},
{"p":7,"y":"pH","x":"P Uptake","v":-0.02},{"p":7,"y":"pH","x":"NO3","v":-0.01},{"p":7,"y":"pH","x":"NH4","v":-0.17},{"p":7,"y":"pH","x":"PO4","v":0.04},{"p":7,"y":"pH","x":"Resin P","v":-0.07},{"p":7,"y":"pH","x":"Soluble P","v":-0.01},{"p":7,"y":"pH","x":"Total P","v":-0.07},{"p":7,"y":"pH","x":"pH","v":0.06},{"p":7,"y":"pH","x":"EC","v":-0.01},{"p":7,"y":"pH","x":"OC","v":-0.001},
{"p":7,"y":"Total P","x":"P Uptake","v":-0.02},{"p":7,"y":"Total P","x":"NO3","v":0.01},{"p":7,"y":"Total P","x":"NH4","v":0.04},{"p":7,"y":"Total P","x":"PO4","v":0.15},{"p":7,"y":"Total P","x":"Resin P","v":0.10},{"p":7,"y":"Total P","x":"Soluble P","v":-0.001},{"p":7,"y":"Total P","x":"Total P","v":0.25},{"p":7,"y":"Total P","x":"pH","v":-0.07},{"p":7,"y":"Total P","x":"EC","v":0.08},{"p":7,"y":"Total P","x":"OC","v":0.03},
{"p":7,"y":"Soluble P","x":"P Uptake","v":-0.11},{"p":7,"y":"Soluble P","x":"NO3","v":-0.01},{"p":7,"y":"Soluble P","x":"NH4","v":0.20},{"p":7,"y":"Soluble P","x":"PO4","v":0.23},{"p":7,"y":"Soluble P","x":"Resin P","v":-0.08},{"p":7,"y":"Soluble P","x":"Soluble P","v":0.14},{"p":7,"y":"Soluble P","x":"Total P","v":-0.001},{"p":7,"y":"Soluble P","x":"pH","v":-0.01},{"p":7,"y":"Soluble P","x":"EC","v":0.01},{"p":7,"y":"Soluble P","x":"OC","v":0.05},
{"p":7,"y":"Resin P","x":"P Uptake","v":0.08},{"p":7,"y":"Resin P","x":"NO3","v":0.01},{"p":7,"y":"Resin P","x":"NH4","v":0.04},{"p":7,"y":"Resin P","x":"PO4","v":-0.16},{"p":7,"y":"Resin P","x":"Resin P","v":0.13},{"p":7,"y":"Resin P","x":"Soluble P","v":-0.08},{"p":7,"y":"Resin P","x":"Total P","v":0.10},{"p":7,"y":"Resin P","x":"pH","v":-0.07},{"p":7,"y":"Resin P","x":"EC","v":0.02},{"p":7,"y":"Resin P","x":"OC","v":-0.03},
{"p":7,"y":"PO4","x":"P Uptake","v":-0.25},{"p":7,"y":"PO4","x":"NO3","v":-0.01},{"p":7,"y":"PO4","x":"NH4","v":0.01},{"p":7,"y":"PO4","x":"PO4","v":0.65},{"p":7,"y":"PO4","x":"Resin P","v":-0.16},{"p":7,"y":"PO4","x":"Soluble P","v":0.23},{"p":7,"y":"PO4","x":"Total P","v":0.15},{"p":7,"y":"PO4","x":"pH","v":0.04},{"p":7,"y":"PO4","x":"EC","v":0.09},{"p":7,"y":"PO4","x":"OC","v":0.12},
{"p":7,"y":"NH4","x":"P Uptake","v":-0.07},{"p":7,"y":"NH4","x":"NO3","v":0.01},{"p":7,"y":"NH4","x":"NH4","v":0.86},{"p":7,"y":"NH4","x":"PO4","v":0.01},{"p":7,"y":"NH4","x":"Resin P","v":0.04},{"p":7,"y":"NH4","x":"Soluble P","v":0.20},{"p":7,"y":"NH4","x":"Total P","v":0.04},{"p":7,"y":"NH4","x":"pH","v":-0.17},{"p":7,"y":"NH4","x":"EC","v":-0.01},{"p":7,"y":"NH4","x":"OC","v":0.04},
{"p":7,"y":"NO3","x":"P Uptake","v":0.01},{"p":7,"y":"NO3","x":"NO3","v":0.00},{"p":7,"y":"NO3","x":"NH4","v":0.01},{"p":7,"y":"NO3","x":"PO4","v":-0.01},{"p":7,"y":"NO3","x":"Resin P","v":0.01},{"p":7,"y":"NO3","x":"Soluble P","v":-0.01},{"p":7,"y":"NO3","x":"Total P","v":0.01},{"p":7,"y":"NO3","x":"pH","v":-0.01},{"p":7,"y":"NO3","x":"EC","v":0.00},{"p":7,"y":"NO3","x":"OC","v":-0.001},
{"p":7,"y":"P Uptake","x":"P Uptake","v":0.11},{"p":7,"y":"P Uptake","x":"NO3","v":0.01},{"p":7,"y":"P Uptake","x":"NH4","v":-0.07},{"p":7,"y":"P Uptake","x":"PO4","v":-0.25},{"p":7,"y":"P Uptake","x":"Resin P","v":0.08},{"p":7,"y":"P Uptake","x":"Soluble P","v":-0.11},{"p":7,"y":"P Uptake","x":"Total P","v":-0.02},{"p":7,"y":"P Uptake","x":"pH","v":-0.02},{"p":7,"y":"P Uptake","x":"EC","v":-0.02},{"p":7,"y":"P Uptake","x":"OC","v":-0.05},

{"p":8,"y":"OC","x":"P Uptake","v":0.14},{"p":8,"y":"OC","x":"NO3","v":0.11},{"p":8,"y":"OC","x":"NH4","v":0.05},{"p":8,"y":"OC","x":"PO4","v":-0.03},{"p":8,"y":"OC","x":"Resin P","v":-0.03},{"p":8,"y":"OC","x":"Soluble P","v":0.02},{"p":8,"y":"OC","x":"Total P","v":0.02},{"p":8,"y":"OC","x":"pH","v":0.01},{"p":8,"y":"OC","x":"EC","v":0.07},{"p":8,"y":"OC","x":"OC","v":0.35},
{"p":8,"y":"EC","x":"P Uptake","v":0.06},{"p":8,"y":"EC","x":"NO3","v":0.10},{"p":8,"y":"EC","x":"NH4","v":0.19},{"p":8,"y":"EC","x":"PO4","v":0.10},{"p":8,"y":"EC","x":"Resin P","v":0.03},{"p":8,"y":"EC","x":"Soluble P","v":0.06},{"p":8,"y":"EC","x":"Total P","v":-0.09},{"p":8,"y":"EC","x":"pH","v":-0.04},{"p":8,"y":"EC","x":"EC","v":0.10},{"p":8,"y":"EC","x":"OC","v":0.07},
{"p":8,"y":"pH","x":"P Uptake","v":-0.01},{"p":8,"y":"pH","x":"NO3","v":-0.03},{"p":8,"y":"pH","x":"NH4","v":-0.08},{"p":8,"y":"pH","x":"PO4","v":-0.05},{"p":8,"y":"pH","x":"Resin P","v":-0.02},{"p":8,"y":"pH","x":"Soluble P","v":-0.02},{"p":8,"y":"pH","x":"Total P","v":0.05},{"p":8,"y":"pH","x":"pH","v":0.02},{"p":8,"y":"pH","x":"EC","v":-0.04},{"p":8,"y":"pH","x":"OC","v":0.01},
{"p":8,"y":"Total P","x":"P Uptake","v":-0.02},{"p":8,"y":"Total P","x":"NO3","v":-0.08},{"p":8,"y":"Total P","x":"NH4","v":-0.14},{"p":8,"y":"Total P","x":"PO4","v":-0.10},{"p":8,"y":"Total P","x":"Resin P","v":-0.06},{"p":8,"y":"Total P","x":"Soluble P","v":-0.06},{"p":8,"y":"Total P","x":"Total P","v":0.12},{"p":8,"y":"Total P","x":"pH","v":0.05},{"p":8,"y":"Total P","x":"EC","v":-0.09},{"p":8,"y":"Total P","x":"OC","v":0.02},
{"p":8,"y":"Soluble P","x":"P Uptake","v":0.02},{"p":8,"y":"Soluble P","x":"NO3","v":0.05},{"p":8,"y":"Soluble P","x":"NH4","v":0.10},{"p":8,"y":"Soluble P","x":"PO4","v":0.06},{"p":8,"y":"Soluble P","x":"Resin P","v":0.02},{"p":8,"y":"Soluble P","x":"Soluble P","v":0.03},{"p":8,"y":"Soluble P","x":"Total P","v":-0.06},{"p":8,"y":"Soluble P","x":"pH","v":-0.02},{"p":8,"y":"Soluble P","x":"EC","v":0.06},{"p":8,"y":"Soluble P","x":"OC","v":0.02},
{"p":8,"y":"Resin P","x":"P Uptake","v":-0.001},{"p":8,"y":"Resin P","x":"NO3","v":0.02},{"p":8,"y":"Resin P","x":"NH4","v":0.03},{"p":8,"y":"Resin P","x":"PO4","v":0.04},{"p":8,"y":"Resin P","x":"Resin P","v":0.03},{"p":8,"y":"Resin P","x":"Soluble P","v":0.02},{"p":8,"y":"Resin P","x":"Total P","v":-0.06},{"p":8,"y":"Resin P","x":"pH","v":-0.02},{"p":8,"y":"Resin P","x":"EC","v":0.03},{"p":8,"y":"Resin P","x":"OC","v":-0.03},
{"p":8,"y":"PO4","x":"P Uptake","v":0.02},{"p":8,"y":"PO4","x":"NO3","v":0.08},{"p":8,"y":"PO4","x":"NH4","v":0.22},{"p":8,"y":"PO4","x":"PO4","v":0.13},{"p":8,"y":"PO4","x":"Resin P","v":0.04},{"p":8,"y":"PO4","x":"Soluble P","v":0.06},{"p":8,"y":"PO4","x":"Total P","v":-0.10},{"p":8,"y":"PO4","x":"pH","v":-0.05},{"p":8,"y":"PO4","x":"EC","v":0.10},{"p":8,"y":"PO4","x":"OC","v":-0.03},
{"p":8,"y":"NH4","x":"P Uptake","v":0.09},{"p":8,"y":"NH4","x":"NO3","v":0.16},{"p":8,"y":"NH4","x":"NH4","v":0.31},{"p":8,"y":"NH4","x":"PO4","v":0.22},{"p":8,"y":"NH4","x":"Resin P","v":0.03},{"p":8,"y":"NH4","x":"Soluble P","v":0.10},{"p":8,"y":"NH4","x":"Total P","v":-0.14},{"p":8,"y":"NH4","x":"pH","v":-0.08},{"p":8,"y":"NH4","x":"EC","v":0.19},{"p":8,"y":"NH4","x":"OC","v":0.05},
{"p":8,"y":"NO3","x":"P Uptake","v":0.07},{"p":8,"y":"NO3","x":"NO3","v":0.10},{"p":8,"y":"NO3","x":"NH4","v":0.16},{"p":8,"y":"NO3","x":"PO4","v":0.08},{"p":8,"y":"NO3","x":"Resin P","v":0.02},{"p":8,"y":"NO3","x":"Soluble P","v":0.05},{"p":8,"y":"NO3","x":"Total P","v":-0.08},{"p":8,"y":"NO3","x":"pH","v":-0.03},{"p":8,"y":"NO3","x":"EC","v":0.10},{"p":8,"y":"NO3","x":"OC","v":0.11},
{"p":8,"y":"P Uptake","x":"P Uptake","v":0.07},{"p":8,"y":"P Uptake","x":"NO3","v":0.07},{"p":8,"y":"P Uptake","x":"NH4","v":0.09},{"p":8,"y":"P Uptake","x":"PO4","v":0.02},{"p":8,"y":"P Uptake","x":"Resin P","v":-0.001},{"p":8,"y":"P Uptake","x":"Soluble P","v":0.02},{"p":8,"y":"P Uptake","x":"Total P","v":-0.02},{"p":8,"y":"P Uptake","x":"pH","v":-0.01},{"p":8,"y":"P Uptake","x":"EC","v":0.06},{"p":8,"y":"P Uptake","x":"OC","v":0.14},

{"p":9,"y":"OC","x":"P Uptake","v":-0.001},{"p":9,"y":"OC","x":"NO3","v":0.00},{"p":9,"y":"OC","x":"NH4","v":-0.001},{"p":9,"y":"OC","x":"PO4","v":-0.01},{"p":9,"y":"OC","x":"Resin P","v":-0.02},{"p":9,"y":"OC","x":"Soluble P","v":0.00},{"p":9,"y":"OC","x":"Total P","v":0.00},{"p":9,"y":"OC","x":"pH","v":-0.01},{"p":9,"y":"OC","x":"EC","v":0.01},{"p":9,"y":"OC","x":"OC","v":0.00},
{"p":9,"y":"EC","x":"P Uptake","v":-0.001},{"p":9,"y":"EC","x":"NO3","v":0.02},{"p":9,"y":"EC","x":"NH4","v":0.07},{"p":9,"y":"EC","x":"PO4","v":-0.03},{"p":9,"y":"EC","x":"Resin P","v":-0.07},{"p":9,"y":"EC","x":"Soluble P","v":0.01},{"p":9,"y":"EC","x":"Total P","v":0.20},{"p":9,"y":"EC","x":"pH","v":-0.03},{"p":9,"y":"EC","x":"EC","v":0.12},{"p":9,"y":"EC","x":"OC","v":0.01},
{"p":9,"y":"pH","x":"P Uptake","v":0.01},{"p":9,"y":"pH","x":"NO3","v":0.00},{"p":9,"y":"pH","x":"NH4","v":0.03},{"p":9,"y":"pH","x":"PO4","v":0.03},{"p":9,"y":"pH","x":"Resin P","v":0.12},{"p":9,"y":"pH","x":"Soluble P","v":-0.02},{"p":9,"y":"pH","x":"Total P","v":-0.01},{"p":9,"y":"pH","x":"pH","v":0.04},{"p":9,"y":"pH","x":"EC","v":-0.03},{"p":9,"y":"pH","x":"OC","v":-0.01},
{"p":9,"y":"Total P","x":"P Uptake","v":-0.13},{"p":9,"y":"Total P","x":"NO3","v":0.23},{"p":9,"y":"Total P","x":"NH4","v":-0.02},{"p":9,"y":"Total P","x":"PO4","v":-0.16},{"p":9,"y":"Total P","x":"Resin P","v":0.26},{"p":9,"y":"Total P","x":"Soluble P","v":-0.10},{"p":9,"y":"Total P","x":"Total P","v":0.42},{"p":9,"y":"Total P","x":"pH","v":-0.01},{"p":9,"y":"Total P","x":"EC","v":0.20},{"p":9,"y":"Total P","x":"OC","v":0.00},
{"p":9,"y":"Soluble P","x":"P Uptake","v":0.05},{"p":9,"y":"Soluble P","x":"NO3","v":-0.08},{"p":9,"y":"Soluble P","x":"NH4","v":0.07},{"p":9,"y":"Soluble P","x":"PO4","v":0.05},{"p":9,"y":"Soluble P","x":"Resin P","v":-0.16},{"p":9,"y":"Soluble P","x":"Soluble P","v":0.05},{"p":9,"y":"Soluble P","x":"Total P","v":-0.10},{"p":9,"y":"Soluble P","x":"pH","v":-0.02},{"p":9,"y":"Soluble P","x":"EC","v":0.01},{"p":9,"y":"Soluble P","x":"OC","v":0.00},
{"p":9,"y":"Resin P","x":"P Uptake","v":-0.10},{"p":9,"y":"Resin P","x":"NO3","v":0.20},{"p":9,"y":"Resin P","x":"NH4","v":-0.08},{"p":9,"y":"Resin P","x":"PO4","v":-0.04},{"p":9,"y":"Resin P","x":"Resin P","v":0.61},{"p":9,"y":"Resin P","x":"Soluble P","v":-0.16},{"p":9,"y":"Resin P","x":"Total P","v":0.26},{"p":9,"y":"Resin P","x":"pH","v":0.12},{"p":9,"y":"Resin P","x":"EC","v":-0.07},{"p":9,"y":"Resin P","x":"OC","v":-0.02},
{"p":9,"y":"PO4","x":"P Uptake","v":0.10},{"p":9,"y":"PO4","x":"NO3","v":-0.11},{"p":9,"y":"PO4","x":"NH4","v":0.14},{"p":9,"y":"PO4","x":"PO4","v":0.11},{"p":9,"y":"PO4","x":"Resin P","v":-0.04},{"p":9,"y":"PO4","x":"Soluble P","v":0.05},{"p":9,"y":"PO4","x":"Total P","v":-0.16},{"p":9,"y":"PO4","x":"pH","v":0.03},{"p":9,"y":"PO4","x":"EC","v":-0.03},{"p":9,"y":"PO4","x":"OC","v":-0.01},
{"p":9,"y":"NH4","x":"P Uptake","v":0.14},{"p":9,"y":"NH4","x":"NO3","v":-0.13},{"p":9,"y":"NH4","x":"NH4","v":0.27},{"p":9,"y":"NH4","x":"PO4","v":0.14},{"p":9,"y":"NH4","x":"Resin P","v":-0.08},{"p":9,"y":"NH4","x":"Soluble P","v":0.07},{"p":9,"y":"NH4","x":"Total P","v":-0.02},{"p":9,"y":"NH4","x":"pH","v":0.03},{"p":9,"y":"NH4","x":"EC","v":0.07},{"p":9,"y":"NH4","x":"OC","v":-0.001},
{"p":9,"y":"NO3","x":"P Uptake","v":-0.11},{"p":9,"y":"NO3","x":"NO3","v":0.15},{"p":9,"y":"NO3","x":"NH4","v":-0.13},{"p":9,"y":"NO3","x":"PO4","v":-0.11},{"p":9,"y":"NO3","x":"Resin P","v":0.20},{"p":9,"y":"NO3","x":"Soluble P","v":-0.08},{"p":9,"y":"NO3","x":"Total P","v":0.23},{"p":9,"y":"NO3","x":"pH","v":0.00},{"p":9,"y":"NO3","x":"EC","v":0.02},{"p":9,"y":"NO3","x":"OC","v":0.00},
{"p":9,"y":"P Uptake","x":"P Uptake","v":0.10},{"p":9,"y":"P Uptake","x":"NO3","v":-0.11},{"p":9,"y":"P Uptake","x":"NH4","v":0.14},{"p":9,"y":"P Uptake","x":"PO4","v":0.10},{"p":9,"y":"P Uptake","x":"Resin P","v":-0.10},{"p":9,"y":"P Uptake","x":"Soluble P","v":0.05},{"p":9,"y":"P Uptake","x":"Total P","v":-0.13},{"p":9,"y":"P Uptake","x":"pH","v":0.01},{"p":9,"y":"P Uptake","x":"EC","v":-0.001},{"p":9,"y":"P Uptake","x":"OC","v":-0.001},

{"p":10,"y":"OC","x":"P Uptake","v":-0.01},{"p":10,"y":"OC","x":"NO3","v":0.01},{"p":10,"y":"OC","x":"NH4","v":0.04},{"p":10,"y":"OC","x":"PO4","v":-0.06},{"p":10,"y":"OC","x":"Resin P","v":-0.04},{"p":10,"y":"OC","x":"Soluble P","v":-0.08},{"p":10,"y":"OC","x":"Total P","v":0.03},{"p":10,"y":"OC","x":"pH","v":0.03},{"p":10,"y":"OC","x":"EC","v":-0.02},{"p":10,"y":"OC","x":"OC","v":0.03},
{"p":10,"y":"EC","x":"P Uptake","v":-0.03},{"p":10,"y":"EC","x":"NO3","v":0.02},{"p":10,"y":"EC","x":"NH4","v":-0.25},{"p":10,"y":"EC","x":"PO4","v":0.10},{"p":10,"y":"EC","x":"Resin P","v":0.17},{"p":10,"y":"EC","x":"Soluble P","v":0.14},{"p":10,"y":"EC","x":"Total P","v":-0.25},{"p":10,"y":"EC","x":"pH","v":-0.19},{"p":10,"y":"EC","x":"EC","v":0.40},{"p":10,"y":"EC","x":"OC","v":-0.02},
{"p":10,"y":"pH","x":"P Uptake","v":0.01},{"p":10,"y":"pH","x":"NO3","v":0.01},{"p":10,"y":"pH","x":"NH4","v":0.20},{"p":10,"y":"pH","x":"PO4","v":-0.04},{"p":10,"y":"pH","x":"Resin P","v":-0.16},{"p":10,"y":"pH","x":"Soluble P","v":0.04},{"p":10,"y":"pH","x":"Total P","v":0.10},{"p":10,"y":"pH","x":"pH","v":0.18},{"p":10,"y":"pH","x":"EC","v":-0.19},{"p":10,"y":"pH","x":"OC","v":0.03},
{"p":10,"y":"Total P","x":"P Uptake","v":0.01},{"p":10,"y":"Total P","x":"NO3","v":-0.01},{"p":10,"y":"Total P","x":"NH4","v":0.15},{"p":10,"y":"Total P","x":"PO4","v":-0.11},{"p":10,"y":"Total P","x":"Resin P","v":-0.09},{"p":10,"y":"Total P","x":"Soluble P","v":-0.20},{"p":10,"y":"Total P","x":"Total P","v":0.18},{"p":10,"y":"Total P","x":"pH","v":0.10},{"p":10,"y":"Total P","x":"EC","v":-0.25},{"p":10,"y":"Total P","x":"OC","v":0.03},
{"p":10,"y":"Soluble P","x":"P Uptake","v":0.02},{"p":10,"y":"Soluble P","x":"NO3","v":0.02},{"p":10,"y":"Soluble P","x":"NH4","v":-0.04},{"p":10,"y":"Soluble P","x":"PO4","v":0.27},{"p":10,"y":"Soluble P","x":"Resin P","v":0.01},{"p":10,"y":"Soluble P","x":"Soluble P","v":0.58},{"p":10,"y":"Soluble P","x":"Total P","v":-0.20},{"p":10,"y":"Soluble P","x":"pH","v":0.04},{"p":10,"y":"Soluble P","x":"EC","v":0.14},{"p":10,"y":"Soluble P","x":"OC","v":-0.08},
{"p":10,"y":"Resin P","x":"P Uptake","v":-0.01},{"p":10,"y":"Resin P","x":"NO3","v":-0.01},{"p":10,"y":"Resin P","x":"NH4","v":-0.18},{"p":10,"y":"Resin P","x":"PO4","v":0.05},{"p":10,"y":"Resin P","x":"Resin P","v":0.15},{"p":10,"y":"Resin P","x":"Soluble P","v":0.01},{"p":10,"y":"Resin P","x":"Total P","v":-0.09},{"p":10,"y":"Resin P","x":"pH","v":-0.16},{"p":10,"y":"Resin P","x":"EC","v":0.17},{"p":10,"y":"Resin P","x":"OC","v":-0.04},
{"p":10,"y":"PO4","x":"P Uptake","v":0.01},{"p":10,"y":"PO4","x":"NO3","v":0.00},{"p":10,"y":"PO4","x":"NH4","v":-0.07},{"p":10,"y":"PO4","x":"PO4","v":0.15},{"p":10,"y":"PO4","x":"Resin P","v":0.05},{"p":10,"y":"PO4","x":"Soluble P","v":0.27},{"p":10,"y":"PO4","x":"Total P","v":-0.11},{"p":10,"y":"PO4","x":"pH","v":-0.04},{"p":10,"y":"PO4","x":"EC","v":0.10},{"p":10,"y":"PO4","x":"OC","v":-0.06},
{"p":10,"y":"NH4","x":"P Uptake","v":0.02},{"p":10,"y":"NH4","x":"NO3","v":0.01},{"p":10,"y":"NH4","x":"NH4","v":0.23},{"p":10,"y":"NH4","x":"PO4","v":-0.07},{"p":10,"y":"NH4","x":"Resin P","v":-0.18},{"p":10,"y":"NH4","x":"Soluble P","v":-0.04},{"p":10,"y":"NH4","x":"Total P","v":0.15},{"p":10,"y":"NH4","x":"pH","v":0.20},{"p":10,"y":"NH4","x":"EC","v":-0.25},{"p":10,"y":"NH4","x":"OC","v":0.04},
{"p":10,"y":"NO3","x":"P Uptake","v":-0.001},{"p":10,"y":"NO3","x":"NO3","v":0.00},{"p":10,"y":"NO3","x":"NH4","v":0.01},{"p":10,"y":"NO3","x":"PO4","v":0.00},{"p":10,"y":"NO3","x":"Resin P","v":-0.01},{"p":10,"y":"NO3","x":"Soluble P","v":0.02},{"p":10,"y":"NO3","x":"Total P","v":-0.01},{"p":10,"y":"NO3","x":"pH","v":0.01},{"p":10,"y":"NO3","x":"EC","v":0.02},{"p":10,"y":"NO3","x":"OC","v":0.01},
{"p":10,"y":"P Uptake","x":"P Uptake","v":0.00},{"p":10,"y":"P Uptake","x":"NO3","v":-0.001},{"p":10,"y":"P Uptake","x":"NH4","v":0.02},{"p":10,"y":"P Uptake","x":"PO4","v":0.01},{"p":10,"y":"P Uptake","x":"Resin P","v":-0.01},{"p":10,"y":"P Uptake","x":"Soluble P","v":0.02},{"p":10,"y":"P Uptake","x":"Total P","v":0.01},{"p":10,"y":"P Uptake","x":"pH","v":0.01},{"p":10,"y":"P Uptake","x":"EC","v":-0.03},{"p":10,"y":"P Uptake","x":"OC","v":-0.01},

{"p":11,"y":"OC","x":"P Uptake","v":0.03},{"p":11,"y":"OC","x":"NO3","v":-0.02},{"p":11,"y":"OC","x":"NH4","v":0.03},{"p":11,"y":"OC","x":"PO4","v":0.17},{"p":11,"y":"OC","x":"Resin P","v":0.11},{"p":11,"y":"OC","x":"Soluble P","v":0.17},{"p":11,"y":"OC","x":"Total P","v":0.13},{"p":11,"y":"OC","x":"pH","v":0.01},{"p":11,"y":"OC","x":"EC","v":-0.02},{"p":11,"y":"OC","x":"OC","v":0.02},
{"p":11,"y":"EC","x":"P Uptake","v":-0.01},{"p":11,"y":"EC","x":"NO3","v":0.01},{"p":11,"y":"EC","x":"NH4","v":-0.01},{"p":11,"y":"EC","x":"PO4","v":-0.18},{"p":11,"y":"EC","x":"Resin P","v":-0.14},{"p":11,"y":"EC","x":"Soluble P","v":-0.18},{"p":11,"y":"EC","x":"Total P","v":-0.11},{"p":11,"y":"EC","x":"pH","v":-0.01},{"p":11,"y":"EC","x":"EC","v":0.02},{"p":11,"y":"EC","x":"OC","v":-0.02},
{"p":11,"y":"pH","x":"P Uptake","v":0.04},{"p":11,"y":"pH","x":"NO3","v":-0.03},{"p":11,"y":"pH","x":"NH4","v":0.05},{"p":11,"y":"pH","x":"PO4","v":0.19},{"p":11,"y":"pH","x":"Resin P","v":0.06},{"p":11,"y":"pH","x":"Soluble P","v":0.19},{"p":11,"y":"pH","x":"Total P","v":0.14},{"p":11,"y":"pH","x":"pH","v":0.02},{"p":11,"y":"pH","x":"EC","v":-0.01},{"p":11,"y":"pH","x":"OC","v":0.01},
{"p":11,"y":"Total P","x":"P Uptake","v":0.50},{"p":11,"y":"Total P","x":"NO3","v":-0.23},{"p":11,"y":"Total P","x":"NH4","v":0.60},{"p":11,"y":"Total P","x":"PO4","v":1.53},{"p":11,"y":"Total P","x":"Resin P","v":0.77},{"p":11,"y":"Total P","x":"Soluble P","v":1.18},{"p":11,"y":"Total P","x":"Total P","v":1.78},{"p":11,"y":"Total P","x":"pH","v":0.14},{"p":11,"y":"Total P","x":"EC","v":-0.11},{"p":11,"y":"Total P","x":"OC","v":0.13},
{"p":11,"y":"Soluble P","x":"P Uptake","v":0.19},{"p":11,"y":"Soluble P","x":"NO3","v":-0.22},{"p":11,"y":"Soluble P","x":"NH4","v":0.24},{"p":11,"y":"Soluble P","x":"PO4","v":2.03},{"p":11,"y":"Soluble P","x":"Resin P","v":1.06},{"p":11,"y":"Soluble P","x":"Soluble P","v":2.14},{"p":11,"y":"Soluble P","x":"Total P","v":1.18},{"p":11,"y":"Soluble P","x":"pH","v":0.19},{"p":11,"y":"Soluble P","x":"EC","v":-0.18},{"p":11,"y":"Soluble P","x":"OC","v":0.17},
{"p":11,"y":"Resin P","x":"P Uptake","v":0.11},{"p":11,"y":"Resin P","x":"NO3","v":-0.10},{"p":11,"y":"Resin P","x":"NH4","v":0.08},{"p":11,"y":"Resin P","x":"PO4","v":1.10},{"p":11,"y":"Resin P","x":"Resin P","v":0.88},{"p":11,"y":"Resin P","x":"Soluble P","v":1.06},{"p":11,"y":"Resin P","x":"Total P","v":0.77},{"p":11,"y":"Resin P","x":"pH","v":0.06},{"p":11,"y":"Resin P","x":"EC","v":-0.14},{"p":11,"y":"Resin P","x":"OC","v":0.11},
{"p":11,"y":"PO4","x":"P Uptake","v":0.33},{"p":11,"y":"PO4","x":"NO3","v":-0.25},{"p":11,"y":"PO4","x":"NH4","v":0.39},{"p":11,"y":"PO4","x":"PO4","v":2.08},{"p":11,"y":"PO4","x":"Resin P","v":1.10},{"p":11,"y":"PO4","x":"Soluble P","v":2.03},{"p":11,"y":"PO4","x":"Total P","v":1.53},{"p":11,"y":"PO4","x":"pH","v":0.19},{"p":11,"y":"PO4","x":"EC","v":-0.18},{"p":11,"y":"PO4","x":"OC","v":0.17},
{"p":11,"y":"NH4","x":"P Uptake","v":0.20},{"p":11,"y":"NH4","x":"NO3","v":-0.08},{"p":11,"y":"NH4","x":"NH4","v":0.26},{"p":11,"y":"NH4","x":"PO4","v":0.39},{"p":11,"y":"NH4","x":"Resin P","v":0.08},{"p":11,"y":"NH4","x":"Soluble P","v":0.24},{"p":11,"y":"NH4","x":"Total P","v":0.60},{"p":11,"y":"NH4","x":"pH","v":0.05},{"p":11,"y":"NH4","x":"EC","v":-0.01},{"p":11,"y":"NH4","x":"OC","v":0.03},
{"p":11,"y":"NO3","x":"P Uptake","v":-0.06},{"p":11,"y":"NO3","x":"NO3","v":0.04},{"p":11,"y":"NO3","x":"NH4","v":-0.08},{"p":11,"y":"NO3","x":"PO4","v":-0.25},{"p":11,"y":"NO3","x":"Resin P","v":-0.10},{"p":11,"y":"NO3","x":"Soluble P","v":-0.22},{"p":11,"y":"NO3","x":"Total P","v":-0.23},{"p":11,"y":"NO3","x":"pH","v":-0.03},{"p":11,"y":"NO3","x":"EC","v":0.01},{"p":11,"y":"NO3","x":"OC","v":-0.02},
{"p":11,"y":"P Uptake","x":"P Uptake","v":0.16},{"p":11,"y":"P Uptake","x":"NO3","v":-0.06},{"p":11,"y":"P Uptake","x":"NH4","v":0.20},{"p":11,"y":"P Uptake","x":"PO4","v":0.33},{"p":11,"y":"P Uptake","x":"Resin P","v":0.11},{"p":11,"y":"P Uptake","x":"Soluble P","v":0.19},{"p":11,"y":"P Uptake","x":"Total P","v":0.50},{"p":11,"y":"P Uptake","x":"pH","v":0.04},{"p":11,"y":"P Uptake","x":"EC","v":-0.01},{"p":11,"y":"P Uptake","x":"OC","v":0.03},

{"p":12,"y":"OC","x":"P Uptake","v":-0.01},{"p":12,"y":"OC","x":"NO3","v":0.00},{"p":12,"y":"OC","x":"NH4","v":0.02},{"p":12,"y":"OC","x":"PO4","v":-0.08},{"p":12,"y":"OC","x":"Resin P","v":-0.11},{"p":12,"y":"OC","x":"Soluble P","v":-0.13},{"p":12,"y":"OC","x":"Total P","v":-0.001},{"p":12,"y":"OC","x":"pH","v":0.06},{"p":12,"y":"OC","x":"EC","v":-0.02},{"p":12,"y":"OC","x":"OC","v":0.13},
{"p":12,"y":"EC","x":"P Uptake","v":0.03},{"p":12,"y":"EC","x":"NO3","v":0.00},{"p":12,"y":"EC","x":"NH4","v":0.01},{"p":12,"y":"EC","x":"PO4","v":-0.01},{"p":12,"y":"EC","x":"Resin P","v":0.02},{"p":12,"y":"EC","x":"Soluble P","v":-0.02},{"p":12,"y":"EC","x":"Total P","v":-0.03},{"p":12,"y":"EC","x":"pH","v":-0.001},{"p":12,"y":"EC","x":"EC","v":0.01},{"p":12,"y":"EC","x":"OC","v":-0.02},
{"p":12,"y":"pH","x":"P Uptake","v":0.04},{"p":12,"y":"pH","x":"NO3","v":0.04},{"p":12,"y":"pH","x":"NH4","v":0.12},{"p":12,"y":"pH","x":"PO4","v":-0.06},{"p":12,"y":"pH","x":"Resin P","v":-0.01},{"p":12,"y":"pH","x":"Soluble P","v":-0.10},{"p":12,"y":"pH","x":"Total P","v":-0.06},{"p":12,"y":"pH","x":"pH","v":0.07},{"p":12,"y":"pH","x":"EC","v":-0.001},{"p":12,"y":"pH","x":"OC","v":0.06},
{"p":12,"y":"Total P","x":"P Uptake","v":-0.25},{"p":12,"y":"Total P","x":"NO3","v":-0.03},{"p":12,"y":"Total P","x":"NH4","v":-0.07},{"p":12,"y":"Total P","x":"PO4","v":0.23},{"p":12,"y":"Total P","x":"Resin P","v":0.02},{"p":12,"y":"Total P","x":"Soluble P","v":0.35},{"p":12,"y":"Total P","x":"Total P","v":0.25},{"p":12,"y":"Total P","x":"pH","v":-0.06},{"p":12,"y":"Total P","x":"EC","v":-0.03},{"p":12,"y":"Total P","x":"OC","v":-0.001},
{"p":12,"y":"Soluble P","x":"P Uptake","v":-0.36},{"p":12,"y":"Soluble P","x":"NO3","v":-0.02},{"p":12,"y":"Soluble P","x":"NH4","v":-0.01},{"p":12,"y":"Soluble P","x":"PO4","v":0.44},{"p":12,"y":"Soluble P","x":"Resin P","v":0.18},{"p":12,"y":"Soluble P","x":"Soluble P","v":0.66},{"p":12,"y":"Soluble P","x":"Total P","v":0.35},{"p":12,"y":"Soluble P","x":"pH","v":-0.10},{"p":12,"y":"Soluble P","x":"EC","v":-0.02},{"p":12,"y":"Soluble P","x":"OC","v":-0.13},
{"p":12,"y":"Resin P","x":"P Uptake","v":-0.03},{"p":12,"y":"Resin P","x":"NO3","v":0.04},{"p":12,"y":"Resin P","x":"NH4","v":0.12},{"p":12,"y":"Resin P","x":"PO4","v":0.13},{"p":12,"y":"Resin P","x":"Resin P","v":0.15},{"p":12,"y":"Resin P","x":"Soluble P","v":0.18},{"p":12,"y":"Resin P","x":"Total P","v":0.02},{"p":12,"y":"Resin P","x":"pH","v":-0.01},{"p":12,"y":"Resin P","x":"EC","v":0.02},{"p":12,"y":"Resin P","x":"OC","v":-0.11},
{"p":12,"y":"PO4","x":"P Uptake","v":-0.24},{"p":12,"y":"PO4","x":"NO3","v":-0.001},{"p":12,"y":"PO4","x":"NH4","v":0.01},{"p":12,"y":"PO4","x":"PO4","v":0.29},{"p":12,"y":"PO4","x":"Resin P","v":0.13},{"p":12,"y":"PO4","x":"Soluble P","v":0.44},{"p":12,"y":"PO4","x":"Total P","v":0.23},{"p":12,"y":"PO4","x":"pH","v":-0.06},{"p":12,"y":"PO4","x":"EC","v":-0.01},{"p":12,"y":"PO4","x":"OC","v":-0.08},
{"p":12,"y":"NH4","x":"P Uptake","v":0.02},{"p":12,"y":"NH4","x":"NO3","v":0.10},{"p":12,"y":"NH4","x":"NH4","v":0.34},{"p":12,"y":"NH4","x":"PO4","v":0.01},{"p":12,"y":"NH4","x":"Resin P","v":0.12},{"p":12,"y":"NH4","x":"Soluble P","v":-0.01},{"p":12,"y":"NH4","x":"Total P","v":-0.07},{"p":12,"y":"NH4","x":"pH","v":0.12},{"p":12,"y":"NH4","x":"EC","v":0.01},{"p":12,"y":"NH4","x":"OC","v":0.02},
{"p":12,"y":"NO3","x":"P Uptake","v":0.01},{"p":12,"y":"NO3","x":"NO3","v":0.03},{"p":12,"y":"NO3","x":"NH4","v":0.10},{"p":12,"y":"NO3","x":"PO4","v":-0.001},{"p":12,"y":"NO3","x":"Resin P","v":0.04},{"p":12,"y":"NO3","x":"Soluble P","v":-0.02},{"p":12,"y":"NO3","x":"Total P","v":-0.03},{"p":12,"y":"NO3","x":"pH","v":0.04},{"p":12,"y":"NO3","x":"EC","v":0.00},{"p":12,"y":"NO3","x":"OC","v":0.00},
{"p":12,"y":"P Uptake","x":"P Uptake","v":0.26},{"p":12,"y":"P Uptake","x":"NO3","v":0.01},{"p":12,"y":"P Uptake","x":"NH4","v":0.02},{"p":12,"y":"P Uptake","x":"PO4","v":-0.24},{"p":12,"y":"P Uptake","x":"Resin P","v":-0.03},{"p":12,"y":"P Uptake","x":"Soluble P","v":-0.36},{"p":12,"y":"P Uptake","x":"Total P","v":-0.25},{"p":12,"y":"P Uptake","x":"pH","v":0.04},{"p":12,"y":"P Uptake","x":"EC","v":0.03},{"p":12,"y":"P Uptake","x":"OC","v":-0.01}
]
},
"data": {"name": "cells"},
"transform": [{"lookup": "p", "from": {"data": {"name": "panels"}, "key": "p", "fields": ["name"]}}],
"facet": {"field": "name", "type": "nominal", "sort": {"field": "p", "op": "min"}, "title": null,
  "header": {"labelFontSize": 23, "labelFontWeight": "bold", "labelColor": "black", "labelFont": "Liberation Sans", "labelPadding": 5}},
"columns": 4,
"spacing": {"column": 24, "row": 17},
"spec": {
  "width": 333,
  "height": 293,
  "encoding": {
    "x": {"field": "x", "type": "nominal",
      "sort": ["P Uptake","NO3","NH4","PO4","Resin P","Soluble P","Total P","pH","EC","OC"],
      "scale": {"paddingInner": 0, "paddingOuter": 0},
      "axis": {"title": null, "labelAngle": -45, "labelAlign": "right", "labelBaseline": "middle", "labelFontSize": 20, "labelFontWeight": "bold", "labelColor": "black", "labelFont": "Liberation Sans", "labelPadding": 1, "tickColor": "#333333", "tickSize": 4, "domain": false, "grid": false}},
    "y": {"field": "y", "type": "nominal",
      "sort": ["OC","EC","pH","Total P","Soluble P","Resin P","PO4","NH4","NO3","P Uptake"],
      "scale": {"paddingInner": 0, "paddingOuter": 0},
      "axis": {"title": null, "labelAngle": -45, "labelAlign": "right", "labelBaseline": "middle", "labelFontSize": 20, "labelFontWeight": "bold", "labelColor": "black", "labelFont": "Liberation Sans", "labelPadding": 4, "tickColor": "#333333", "tickSize": 4, "domain": false, "grid": false, "minExtent": 84, "maxExtent": 84}}
  },
  "layer": [
    {"mark": {"type": "rect"},
     "encoding": {"color": {"field": "v", "type": "quantitative", "title": "Covariance",
        "scale": {"type": "linear", "domain": [-1.25, -0.63125, -0.0125, 0.60625, 1.225, 1.84375, 2.4625, 3.08125, 3.7],
          "range": ["#fff7fb", "#ece2f0", "#d0d1e6", "#a6bddb", "#67a9cf", "#3690c0", "#02818a", "#016c59", "#014636"], "nice": false, "zero": false},
        "legend": {"orient": "none", "legendX": 1431, "legendY": 360, "direction": "vertical", "gradientLength": 224, "gradientThickness": 42,
          "values": [-1.2, -0.7, -0.2, 0.3, 0.8, 1.3, 1.8, 2.3, 2.8, 3.3], "format": ".1f", "labelOverlap": false,
          "labelFontSize": 20, "labelColor": "#222222", "labelFont": "Liberation Sans", "labelOffset": 14,
          "titleFontSize": 23, "titleFontWeight": "bold", "titleColor": "black", "titleFont": "Liberation Sans", "titlePadding": 10}}}},
    {"mark": {"type": "text", "fontSize": 12, "font": "Liberation Sans"},
     "encoding": {
       "text": {"condition": {"test": "datum.v < 0 && datum.v > -0.005", "value": "-0.00"}, "field": "v", "type": "quantitative", "format": ".2f"},
       "color": {"condition": {"test": "datum.v > 1.9", "value": "white"}, "value": "black"}}}
  ]
},
"config": {
  "locale": {"number": {"decimal": ".", "thousands": ",", "grouping": [3], "currency": ["$", ""], "minus": "-"}},
  "view": {"fill": "#EBEBEB", "stroke": null},
  "font": "Liberation Sans",
  "background": "white"
}
}
